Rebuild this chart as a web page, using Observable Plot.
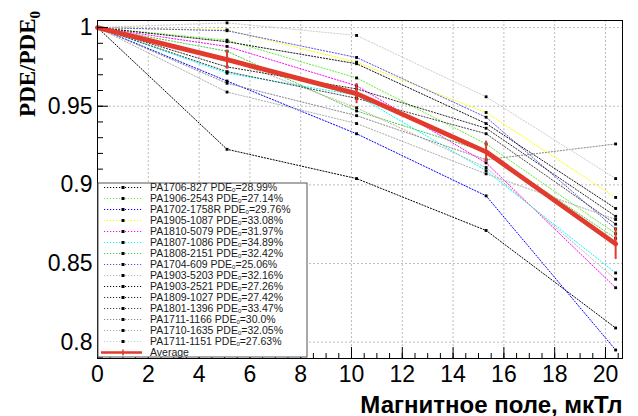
<!DOCTYPE html>
<html><head><meta charset="utf-8">
<script src="https://cdn.jsdelivr.net/npm/d3@7"></script>
<script src="https://cdn.jsdelivr.net/npm/@observablehq/plot@0.6"></script>
<style>body{margin:0;background:#fff} svg{display:block}</style>
</head><body><div id="chart"></div>
<script>
// Magnetic field, µT
const fields = [0, 5.1, 10.2, 15.3, 20.4];

const names = ["PA1706-827","PA1906-2543","PA1702-1758R","PA1905-1087","PA1810-5079",
  "PA1807-1086","PA1808-2151","PA1704-609","PA1903-5203","PA1903-2521",
  "PA1809-1027","PA1801-1396","PA1711-1166","PA1710-1635","PA1711-1151"];
const pde0 = ["28.99","27.14","29.76","33.08","31.97","34.89","32.42","25.06","32.16","27.26","27.42","33.47","30.0","32.05","27.63"];
const colors = ["#000000","#66ee33","#0000ff","#ffff00","#ff00ff","#00ffff","#44cc44","#5555ee",
  "#c4b2a0","#111111","#2a2a2a","#444444","#888888","#aaaaaa","#cccccc"];

// PDE/PDE0 per sample at each field value
const pa1706_827  = [1, 0.9226, 0.904, 0.871, 0.809];
const pa1906_2543 = [1, 0.992, 0.968, 0.926, 0.869];
const pa1702_1758R= [1, 0.966, 0.9325, 0.893, 0.795];
const pa1905_1087 = [1, 0.9985, 0.978, 0.946, 0.892];
const pa1810_5079 = [1, 0.988, 0.963, 0.914, 0.8346];
const pa1807_1086 = [1, 0.971, 0.957, 0.909, 0.844];
const pa1808_2151 = [1, 0.985, 0.947, 0.921, 0.866];
const pa1704_609  = [1, 0.998, 0.981, 0.943, 0.872];
const pa1903_5203 = [1, 0.980, 0.949, 0.911, 0.840];
const pa1903_2521 = [1, 0.991, 0.977, 0.939, 0.885];
const pa1809_1027 = [1, 0.975, 0.961, 0.936, 0.880];
const pa1801_1396 = [1, 0.972, 0.955, 0.9325, 0.875];
const pa1711_1166 = [1, 0.9646, 0.944, 0.916, 0.926];
const pa1710_1635 = [1, 0.959, 0.939, 0.907, 0.878];
const pa1711_1151 = [1, 1.003, 0.995, 0.956, 0.904];
const series = [pa1706_827, pa1906_2543, pa1702_1758R, pa1905_1087, pa1810_5079, pa1807_1086,
  pa1808_2151, pa1704_609, pa1903_5203, pa1903_2521, pa1809_1027, pa1801_1396,
  pa1711_1166, pa1710_1635, pa1711_1151];

const average = [1, 0.9796, 0.958, 0.921, 0.8625];
const averageErr = [0, 0.0058, 0.0064, 0.0068, 0.0099];

const xTicks = [0,2,4,6,8,10,12,14,16,18,20];
const xMinor = d3.range(0, 20.6, 0.5);
const yTicks = [0.8, 0.85, 0.9, 0.95, 1];
const yMinor = d3.range(79, 101).map(d => d / 100);

const rows = names.flatMap((n, i) => fields.map((f, j) => ({name: n, x: f, y: series[i][j]})));
const avgRows = fields.map((f, j) => ({x: f, y: average[j], lo: average[j] - averageErr[j], hi: average[j] + averageErr[j]}));

const W = 638, H = 416, mL = 97, mR = 16, mT = 20, mB = 58;
const fw = W - mL - mR, fh = H - mT - mB;
const red = "#e23b2e";
const dots = "1.2,1.8";

const chart = Plot.plot({
  width: W, height: H,
  marginLeft: mL, marginRight: mR, marginTop: mT, marginBottom: mB,
  style: {fontFamily: "'Liberation Sans', Arial, sans-serif", fontSize: "23px", color: "black", background: "white"},
  x: {domain: [0, 20.67]},
  y: {domain: [0.7896, 1.0045]},
  color: {type: "ordinal", domain: names, range: colors},
  marks: [
    Plot.ruleX(xTicks, {x: d => d, stroke: "#bdbdbd", strokeDasharray: "2,2", strokeWidth: 1}),
    Plot.ruleY(yTicks, {y: d => d, stroke: "#bdbdbd", strokeDasharray: "2,2", strokeWidth: 1}),
    Plot.line(rows, {x: "x", y: "y", z: "name", stroke: "name", strokeWidth: 1, strokeDasharray: dots}),
    Plot.dot(rows, {x: "x", y: "y", symbol: "square", r: 1.6, fill: "black"}),
    Plot.line(avgRows, {x: "x", y: "y", stroke: red, strokeWidth: 4.8}),
    Plot.ruleX(avgRows, {x: "x", y1: "lo", y2: "hi", stroke: red, strokeWidth: 2}),
    Plot.dot(avgRows, {x: "x", y: "y", r: 2, fill: red}),
    Plot.frame({stroke: "black", strokeWidth: 1}),
    Plot.tickY(yTicks, {y: d => d, insetRight: fw - 11, stroke: "black"}),
    Plot.tickY(yMinor, {y: d => d, insetRight: fw - 6, stroke: "black"}),
    Plot.tickX(xTicks, {x: d => d, insetTop: fh - 11, stroke: "black"}),
    Plot.tickX(xMinor, {x: d => d, insetTop: fh - 5, stroke: "black"}),
    Plot.axisY(yTicks, {tickSize: 0, tickPadding: 5, tickFormat: d3.format("~g"), label: null}),
    Plot.axisX(xTicks, {tickSize: 0, tickPadding: 7, tickFormat: d3.format("~g"), label: null}),
    Plot.text(["Магнитное поле, мкТл"], {frameAnchor: "bottom-right", dy: 54, textAnchor: "end", lineAnchor: "bottom", fontWeight: "bold", fontSize: 24})
  ]
});
document.getElementById("chart").appendChild(chart);

const svg = d3.select(chart);
// y-axis title
const yt = svg.append("text")
  .attr("transform", "translate(35,11) rotate(-90)")
  .attr("text-anchor", "end")
  .attr("font-family", "'Liberation Serif', 'Times New Roman', serif")
  .attr("font-weight", "bold").attr("font-size", 23).attr("fill", "black");
yt.append("tspan").text("PDE/PDE");
yt.append("tspan").attr("dy", 5).attr("font-size", 15).text("0");

// legend
const lg = svg.append("g").attr("font-family", "'Liberation Sans', Arial, sans-serif")
  .attr("font-size", 10.5).attr("text-anchor", "start");
lg.append("rect").attr("x", 98).attr("y", 183).attr("width", 209).attr("height", 174)
  .attr("fill", "white").attr("stroke", "#555").attr("stroke-width", 1);
names.forEach((n, i) => {
  const cy = 187.5 + i * 11;
  lg.append("line").attr("x1", 104).attr("x2", 142).attr("y1", cy).attr("y2", cy)
    .attr("stroke", colors[i]).attr("stroke-width", 1).attr("stroke-dasharray", dots);
  lg.append("rect").attr("x", 121.5).attr("y", cy - 1.5).attr("width", 3).attr("height", 3).attr("fill", "black");
  const t = lg.append("text").attr("x", 150).attr("y", cy + 3.7).attr("fill", "#1a1a1a").attr("text-anchor", "start");
  t.append("tspan").text(n + " PDE");
  t.append("tspan").attr("dy", 1.2).attr("font-size", 6).text("0");
  t.append("tspan").attr("dy", -1.2).text("=" + pde0[i] + "%");
});
{
  const cy = 187.5 + names.length * 11;
  lg.append("line").attr("x1", 101).attr("x2", 142).attr("y1", cy).attr("y2", cy).attr("stroke", red).attr("stroke-width", 2.5);
  lg.append("line").attr("x1", 123).attr("x2", 123).attr("y1", cy - 3).attr("y2", cy + 3).attr("stroke", red).attr("stroke-width", 1.5);
  lg.append("text").attr("x", 150).attr("y", cy + 3.7).attr("fill", "#1a1a1a").attr("text-anchor", "start").text("Average");
}
</script>
</body></html>
